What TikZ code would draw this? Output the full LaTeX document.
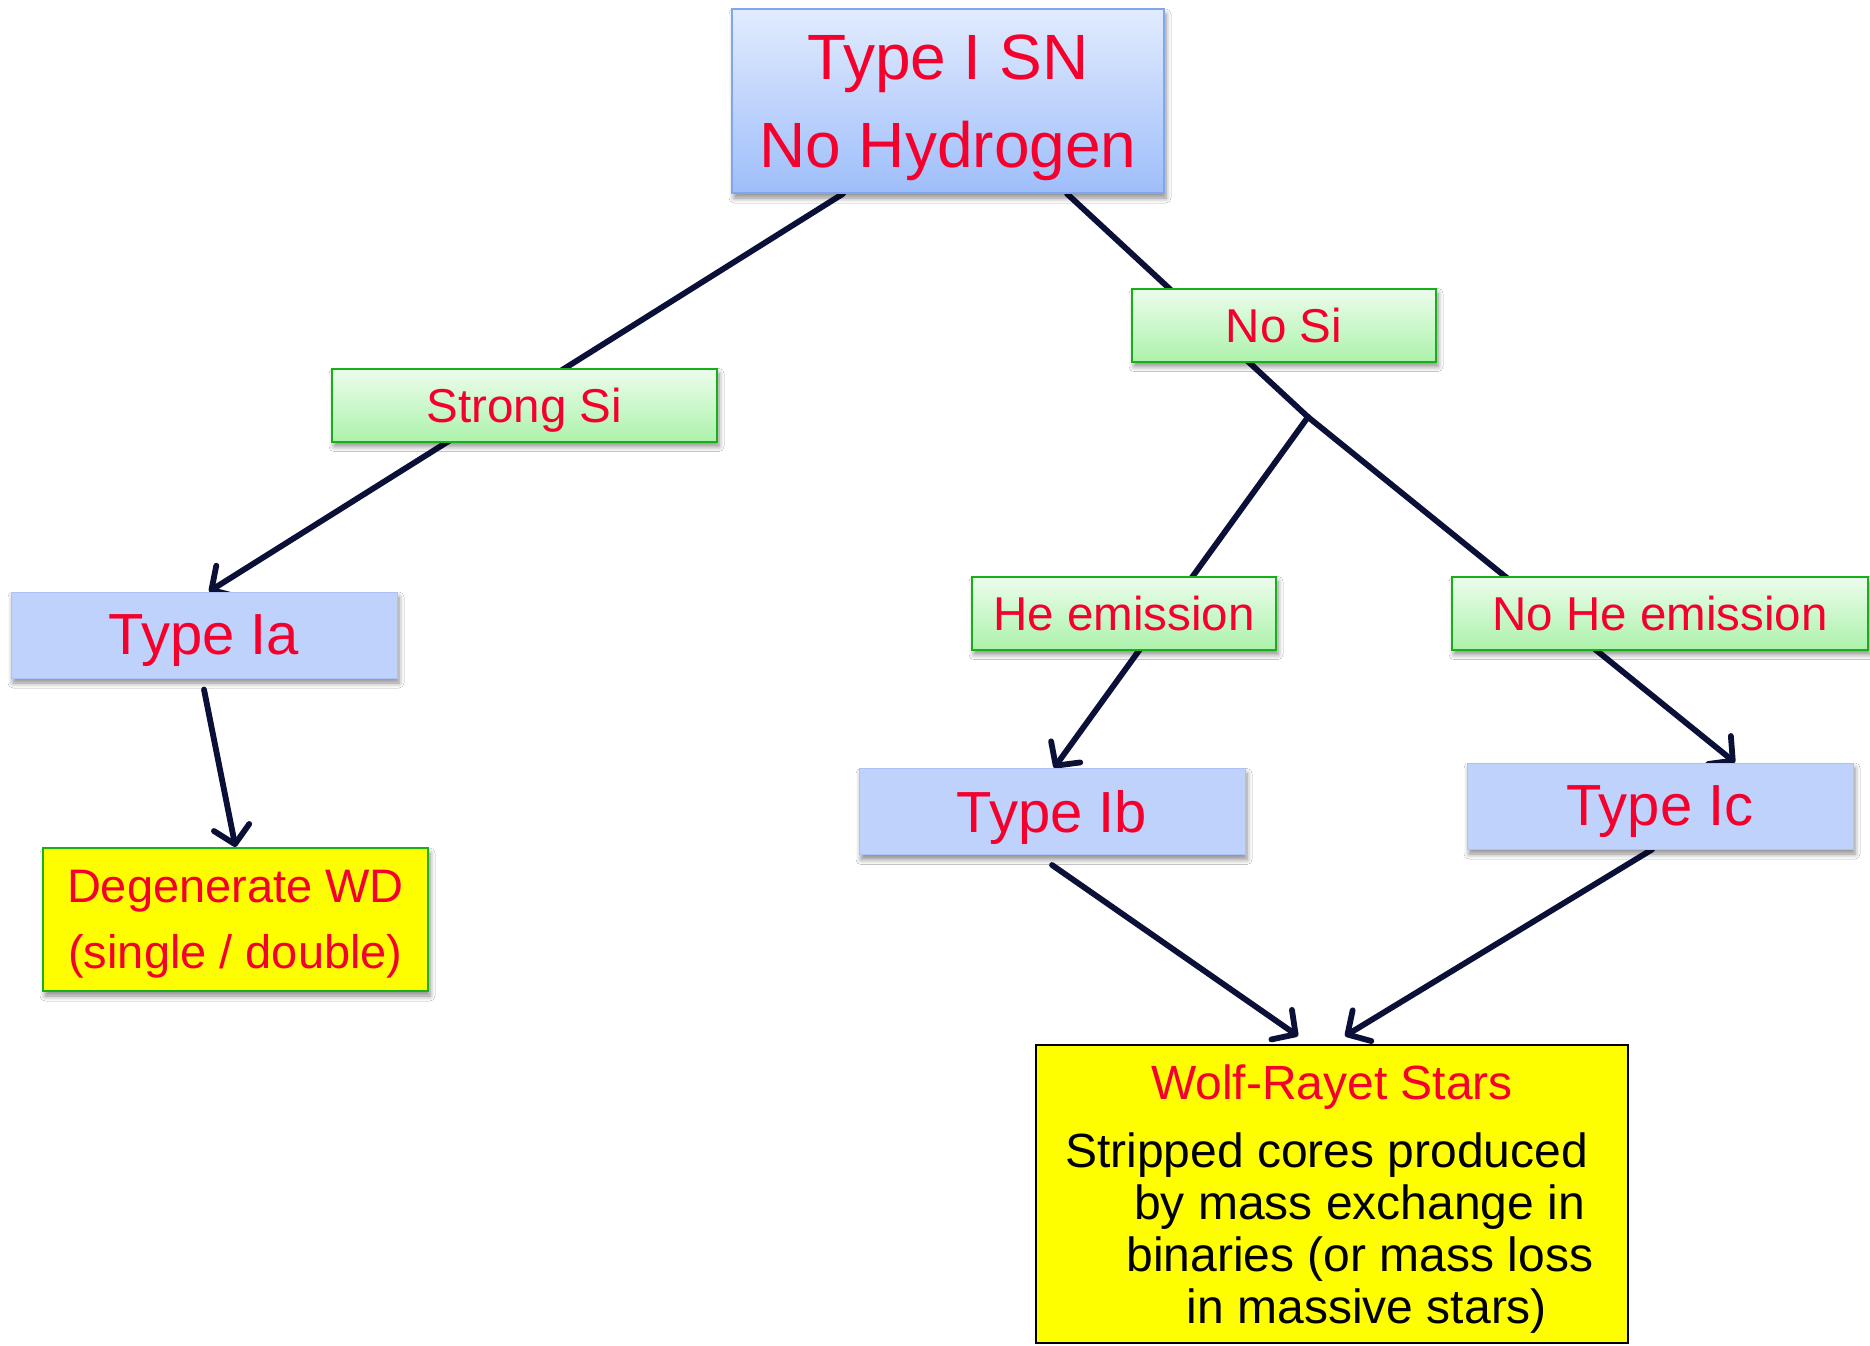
\documentclass[tikz,border=0pt]{standalone}
\usepackage{fontspec}
\setmainfont{Liberation Sans}
\usetikzlibrary{arrows.meta,shadows.blur}
\pgfdeclarelayer{background}
\pgfsetlayers{background,main}

\definecolor{snred}{RGB}{245,0,45}
\definecolor{linec}{RGB}{10,16,56}
\definecolor{topA}{RGB}{225,235,254}
\definecolor{topB}{RGB}{158,190,250}
\definecolor{topedge}{RGB}{128,166,238}
\definecolor{typefill}{RGB}{191,210,252}
\definecolor{typeedge}{RGB}{170,194,245}
\definecolor{grA}{RGB}{236,253,236}
\definecolor{grB}{RGB}{172,242,172}
\definecolor{gredge}{RGB}{24,176,24}
\definecolor{yel}{RGB}{255,254,0}

\tikzset{
  base/.style={rectangle, inner sep=0pt, text=snred, text depth=0pt, align=center},
  soft/.style={blur shadow={shadow xshift=2pt, shadow yshift=-5pt,
      shadow blur radius=5pt, shadow blur steps=6, shadow opacity=45}},
  topbox/.style={base, soft, minimum width=432pt, minimum height=184pt,
      top color=topA, bottom color=topB, draw=topedge, line width=1.5pt,
      font=\fontsize{64}{88}\selectfont},
  typebox/.style={base, soft, minimum width=386pt, minimum height=86pt,
      fill=typefill, draw=typeedge, line width=1pt,
      font=\fontsize{58}{66}\selectfont},
  testbox/.style={base, soft, minimum height=73pt,
      top color=grA, bottom color=grB, draw=gredge, line width=2pt,
      font=\fontsize{47.5}{56}\selectfont},
  wdbox/.style={base, soft, minimum width=385pt, minimum height=143pt,
      fill=yel, draw=gredge, line width=2pt,
      font=\fontsize{47}{66}\selectfont},
  wrbox/.style={base, minimum width=592pt, minimum height=298pt,
      fill=yel, draw=black, line width=2pt, text=black,
      font=\fontsize{48}{52}\selectfont},
  link/.style={draw=linec, line width=5.8pt, line cap=round},
  arrowlink/.style={link, -{Straight Barb[length=17pt,width=36pt,line cap=round,line join=round]}},
}

\begin{document}
\begin{tikzpicture}[x=1pt, y=-1pt]
  \useasboundingbox (0,0) rectangle (1870,1345);

  % boxes
  \node[topbox] (top) at (948,101) {Type I SN\\No Hydrogen};

  \node[testbox, minimum width=385pt] (strong) at (524.5,405) {Strong Si};
  \node[testbox, minimum width=304pt] (nosi) at (1284,325) {No Si};
  \node[testbox, minimum width=304pt] (he) at (1124,613) {He emission};
  \node[testbox, minimum width=416pt] (nohe) at (1660,613) {No He emission};

  \node[typebox] (ia) at (204,635) {Type Ia};
  \node[typebox] (ib) at (1052,811.5) {Type Ib};
  \node[typebox] (ic) at (1660,806) {Type Ic};

  \node[wdbox] (wd) at (235.5,919.5) {Degenerate WD\\(single / double)};

  % first body line hangs out to the left of the others
  \node[wrbox] (wr) at (1332,1194) {\textcolor{snred}{Wolf-Rayet Stars}\\[16pt]
    Stripped cores produced\hbox to 11pt{}\\
    \hspace*{55pt}by mass exchange in\\
    \hspace*{56pt}binaries (or mass loss\\
    \hspace*{70pt}in massive stars)};

  \coordinate (split) at (1308,417);

  % white page, then the connectors, all behind the boxes
  \begin{pgfonlayer}{background}
    \fill[white] (0,0) rectangle (1870,1345);
    \draw[arrowlink] ([xshift=-105pt]top.south) -- ([xshift=5pt]ia.north);
    \draw[arrowlink] ([yshift=-11pt]ia.south) -- (wd.north);
    \draw[link] ([xshift=119pt]top.south) -- (split);
    \draw[arrowlink] (split) -- ([xshift=2pt]ib.north);
    \draw[arrowlink] (split) -- ([xshift=75pt]ic.north);
    \draw[arrowlink] ([yshift=-10pt]ib.south) -- ([xshift=-34pt,yshift=8pt]wr.north);
    \draw[arrowlink] ([xshift=-8pt]ic.south) -- ([xshift=13pt,yshift=8pt]wr.north);
  \end{pgfonlayer}
\end{tikzpicture}
\end{document}
